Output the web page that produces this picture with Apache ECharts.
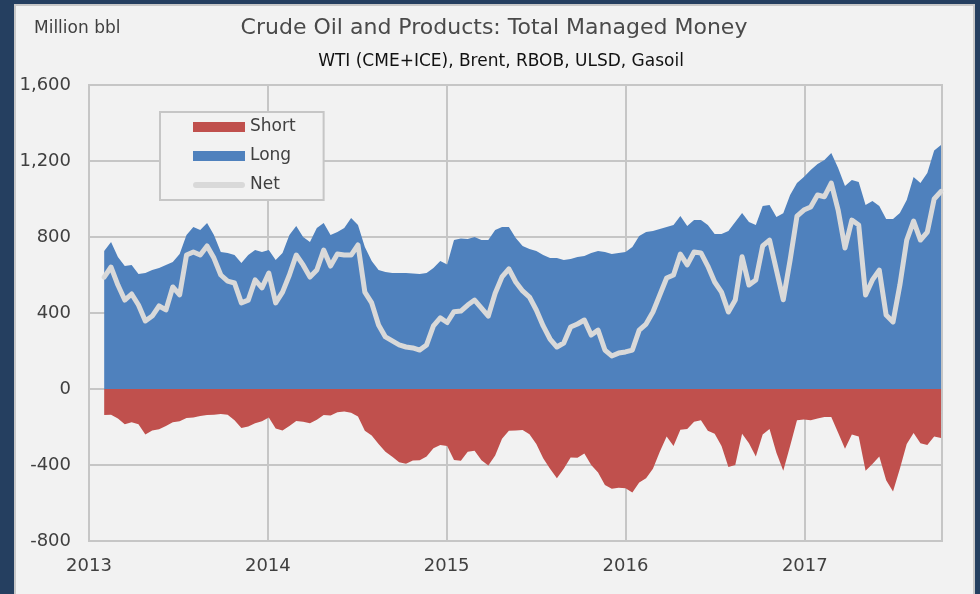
<!DOCTYPE html>
<html>
<head>
<meta charset="utf-8">
<script src="https://cdn.jsdelivr.net/npm/echarts@6/dist/echarts.min.js"></script>
<style>
  body { margin: 0; background: #253F60; }
  #panel {
    position: absolute; left: 14px; top: 4px; width: 961px; height: 600px;
    box-sizing: border-box; background: #F2F2F2; border: 2px solid #C8C8C8;
  }
  #main { position: absolute; left: 0; top: 0; width: 980px; height: 594px; }
</style>
</head>
<body>
<div id="panel"></div>
<div id="main"></div>
<script>
// fortnightly readings, first one on 2013-02-01
const startDate = Date.UTC(2013, 1, 1);
const stepDays = 14;

const longPos = [
  726, 774, 695, 647, 653, 605, 610, 626, 637, 653,
  668, 710, 810, 853, 837, 874, 810, 721, 716, 705,
  663, 705, 731, 721, 731, 679, 716, 810, 858, 800,
  774, 847, 874, 810, 826, 847, 900, 863, 747, 674,
  626, 616, 610, 610, 610, 608, 605, 610, 637, 674,
  655, 784, 792, 789, 800, 784, 784, 837, 853, 853,
  795, 753, 737, 726, 705, 689, 689, 679, 684, 695,
  700, 716, 726, 721, 710, 716, 721, 747, 805, 826,
  832, 842, 853, 863, 910, 858, 889, 889, 863, 816,
  816, 832, 879, 926, 879, 863, 963, 968, 905, 925,
  1021, 1084, 1116, 1153, 1184, 1205, 1242, 1163, 1068, 1100,
  1089, 968, 989, 963, 895, 895, 926, 995, 1116, 1084,
  1137, 1255, 1284
];

const shortPos = [
  -137, -135, -155, -186, -175, -185, -240, -218, -212, -195,
  -175, -170, -152, -150, -142, -137, -136, -132, -135, -165,
  -205, -198, -180, -170, -150, -208, -218, -195, -168, -172,
  -180, -162, -137, -140, -122, -118, -125, -145, -220, -245,
  -290, -330, -356, -385, -393, -376, -375, -355, -312, -295,
  -300, -374, -378, -330, -325, -375, -402, -350, -262, -220,
  -218, -216, -238, -290, -365, -420, -470, -420, -360, -362,
  -340, -400, -440, -505, -525, -520, -522, -545, -492, -470,
  -420, -330, -250, -300, -215, -210, -172, -165, -220, -235,
  -300, -410, -400, -235, -285, -355, -240, -210, -335, -430,
  -300, -165, -160, -165, -155, -148, -148, -230, -315, -240,
  -250, -430, -395, -355, -480, -540, -420, -290, -232, -285,
  -295, -250, -258
];

const netPos = [
  589, 642, 547, 468, 500, 442, 358, 384, 437, 416,
  537, 495, 705, 721, 705, 753, 689, 600, 568, 558,
  453, 468, 574, 532, 610, 453, 510, 600, 705, 653,
  589, 626, 731, 647, 710, 705, 705, 758, 510, 453,
  337, 274, 253, 232, 221, 216, 205, 232, 332, 374,
  350, 407, 410, 442, 468, 426, 384, 504, 590, 632,
  563, 516, 484, 416, 332, 263, 221, 242, 326, 342,
  363, 284, 310, 205, 174, 189, 195, 205, 310, 342,
  405, 495, 584, 600, 710, 653, 721, 716, 647, 563,
  510, 405, 468, 696, 547, 574, 753, 784, 626, 470,
  679, 910, 942, 958, 1021, 1012, 1084, 942, 742, 889,
  863, 495, 574, 626, 389, 353, 547, 784, 884, 784,
  826, 1000, 1040
];

const dates = longPos.map((v, i) => startDate + i * stepDays * 86400000);
const pair = arr => arr.map((v, i) => [dates[i], v]);

const FONT = '"DejaVu Sans", Verdana, sans-serif';

let myChart = echarts.init(document.getElementById('main'), null, {renderer: 'canvas'});
let option = {
  useUTC: true,
  animation: false,
  backgroundColor: 'transparent',
  textStyle: {fontFamily: FONT},
  graphic: [
    {type: 'text', x: 34, y: 29,
      style: {text: 'Million bbl', fill: '#404040', font: '17px ' + FONT, textAlign: 'left', textVerticalAlign: 'middle'}},
    {type: 'text', x: 494, y: 28,
      style: {text: 'Crude Oil and Products: Total Managed Money', fill: '#4a4a4a', font: '22px ' + FONT, textAlign: 'center', textVerticalAlign: 'middle'}},
    {type: 'text', x: 501, y: 62,
      style: {text: 'WTI (CME+ICE), Brent, RBOB, ULSD, Gasoil', fill: '#111111', font: '17px ' + FONT, textAlign: 'center', textVerticalAlign: 'middle'}}
  ],
  grid: {
    left: 89, top: 85, right: 38, bottom: 53,
    show: true, borderColor: '#C6C6C6', borderWidth: 2, backgroundColor: '#F2F2F2'
  },
  legend: {
    orient: 'vertical', left: 160, top: 112,
    padding: [5, 28, 5, 33],
    itemWidth: 52, itemHeight: 10, itemGap: 9,
    backgroundColor: '#F2F2F2', borderColor: '#C6C6C6', borderWidth: 2,
    textStyle: {fontSize: 17, color: '#404040', lineHeight: 20, fontFamily: FONT},
    data: [
      {name: 'Short', icon: 'rect'},
      {name: 'Long', icon: 'rect'},
      {name: 'Net', icon: 'path://M3,0 L49,0 A3,3 0 0 1 49,6 L3,6 A3,3 0 0 1 3,0 Z'}
    ]
  },
  xAxis: {
    type: 'time',
    min: Date.UTC(2013, 0, 1),
    max: Date.UTC(2017, 9, 8),
    minInterval: 365 * 86400000,
    axisLine: {show: true, onZero: false, lineStyle: {color: '#C6C6C6', width: 2}},
    axisTick: {show: false},
    splitLine: {show: true, lineStyle: {color: '#C6C6C6', width: 2}},
    axisLabel: {formatter: '{yyyy}', fontSize: 18, color: '#404040', margin: 16, fontFamily: FONT}
  },
  yAxis: {
    type: 'value',
    min: -800, max: 1600, interval: 400,
    axisLine: {show: true, lineStyle: {color: '#C6C6C6', width: 2}},
    axisTick: {show: false},
    splitLine: {show: true, lineStyle: {color: '#C6C6C6', width: 2}},
    axisLabel: {
      fontSize: 18, color: '#404040', margin: 18, fontFamily: FONT,
      formatter: v => v.toLocaleString('en-US')
    }
  },
  series: [
    {
      name: 'Long', type: 'line', data: pair(longPos),
      symbol: 'none', lineStyle: {width: 0},
      itemStyle: {color: '#4F81BD'},
      areaStyle: {color: '#4F81BD', opacity: 1}
    },
    {
      name: 'Short', type: 'line', data: pair(shortPos),
      symbol: 'none', lineStyle: {width: 0},
      itemStyle: {color: '#C0504D'},
      areaStyle: {color: '#C0504D', opacity: 1}
    },
    {
      name: 'Net', type: 'line', data: pair(netPos),
      symbol: 'none', smooth: false,
      itemStyle: {color: '#D9D9D9'},
      lineStyle: {color: '#D9D9D9', width: 5, cap: 'round', join: 'round'}
    }
  ]
};
myChart.setOption(option);
</script>
</body>
</html>
